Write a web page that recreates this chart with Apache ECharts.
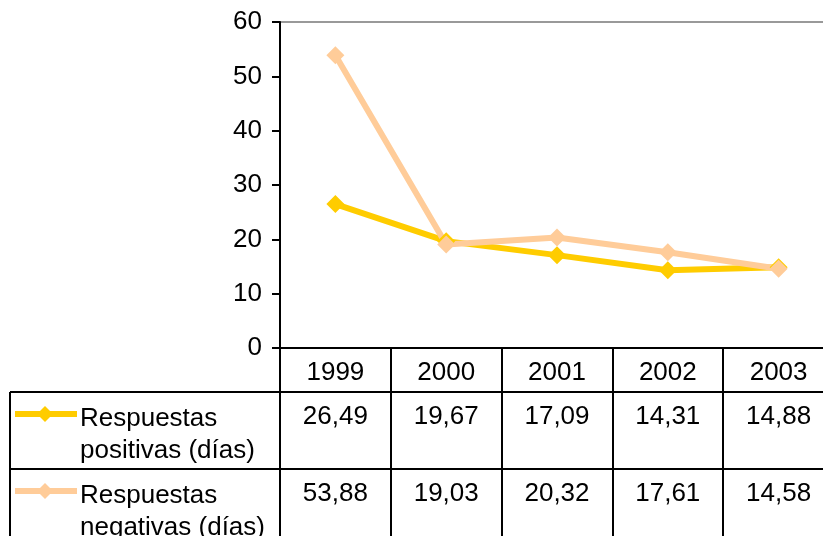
<!DOCTYPE html>
<html><head><meta charset="utf-8">
<script src="https://cdn.jsdelivr.net/npm/echarts@6/dist/echarts.min.js"></script>
<style>html,body{margin:0;padding:0;background:#fff}#c{width:823px;height:536px}</style>
</head><body><div id="c"></div>
<script>
const years = ['1999', '2000', '2001', '2002', '2003'];
const positivas = [26.49, 19.67, 17.09, 14.31, 14.88];
const negativas = [53.88, 19.03, 20.32, 17.61, 14.58];
const seriesNames = ['Respuestas positivas (días)', 'Respuestas negativas (días)'];
const seriesLabels = [['Respuestas', 'positivas (días)'], ['Respuestas', 'negativas (días)']];
const colors = ['#FFCC00', '#FFCC99'];
const FONT = 'Liberation Sans';
const FS = 26;

const chart = echarts.init(document.getElementById('c'));
const option = {
  animation: false,
  textStyle: { fontFamily: FONT },
  grid: { left: 280, top: 22, right: -11, bottom: 188, outerBoundsMode: 'none', containLabel: false,
          show: true, borderColor: '#999999', borderWidth: 2, backgroundColor: 'transparent' },
  xAxis: {
    type: 'category', data: years, boundaryGap: true,
    axisLine: { lineStyle: { color: '#000', width: 2 } },
    axisTick: { show: true, length: 190, lineStyle: { color: '#000', width: 2 } },
    axisLabel: { color: '#000', fontSize: FS, fontFamily: FONT, margin: 12 },
    splitLine: { show: false }
  },
  yAxis: {
    type: 'value', min: 0, max: 60, interval: 10,
    axisLine: { show: true, lineStyle: { color: '#000', width: 2 } },
    axisTick: { show: true, length: 8, lineStyle: { color: '#000', width: 2 } },
    axisLabel: { color: '#000', fontSize: FS, fontFamily: FONT, margin: 18 },
    splitLine: { show: false }
  },
  series: [
    { name: seriesNames[0], type: 'line', data: positivas, color: colors[0],
      symbol: 'diamond', symbolSize: 18, lineStyle: { width: 6, color: colors[0] },
      itemStyle: { color: colors[0] } },
    { name: seriesNames[1], type: 'line', data: negativas, color: colors[1],
      symbol: 'diamond', symbolSize: 18, lineStyle: { width: 6, color: colors[1] },
      itemStyle: { color: colors[1] } }
  ]
};
chart.setOption(option);

// Data table below the axis, positioned from the axis scale
const zeroY = chart.convertToPixel({ yAxisIndex: 0 }, 0);
const rowTop = [zeroY + 44, zeroY + 121];
const fmt = v => v.toFixed(2).replace('.', ',');
const g = [];
const W = 823;
rowTop.forEach(y => g.push({ type: 'line', shape: { x1: 10, y1: y, x2: W, y2: y }, style: { stroke: '#000', lineWidth: 2 } }));
g.push({ type: 'line', shape: { x1: 10, y1: rowTop[0], x2: 10, y2: 536 }, style: { stroke: '#000', lineWidth: 2 } });
[positivas, negativas].forEach((arr, si) => {
  const ly = rowTop[si] + 22;
  const ty = rowTop[si] + 27;
  g.push({ type: 'line', shape: { x1: 15, y1: ly, x2: 77, y2: ly }, style: { stroke: colors[si], lineWidth: 6, lineCap: 'butt' } });
  g.push({ type: 'polygon', shape: { points: [[45, ly - 8], [53, ly], [45, ly + 8], [37, ly]] }, style: { fill: colors[si] } });
  seriesLabels[si].forEach((t, li) => {
    g.push({ type: 'text', x: 80, y: ty + li * 32, style: { text: t, fontSize: FS, fontFamily: FONT, fill: '#000', verticalAlign: 'middle', align: 'left' } });
  });
  arr.forEach((v, i) => {
    const cx = chart.convertToPixel({ xAxisIndex: 0 }, years[i]);
    g.push({ type: 'text', x: cx, y: ty - 2, style: { text: fmt(v), fontSize: FS, fontFamily: FONT, fill: '#000', align: 'center', verticalAlign: 'middle' } });
  });
});
chart.setOption({ graphic: g });
</script></body></html>
